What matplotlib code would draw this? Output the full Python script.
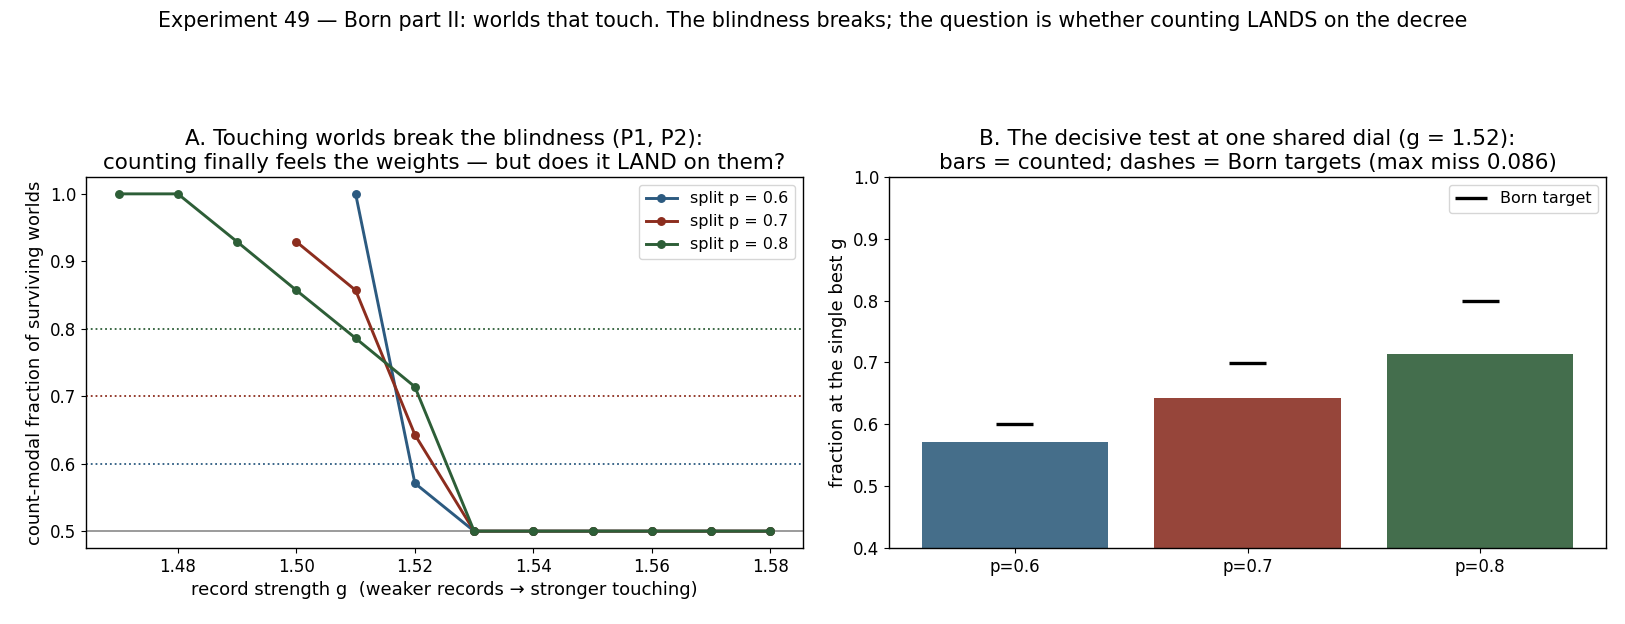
import numpy as np
import matplotlib.pyplot as plt

# panel A: count-modal fraction vs record strength g
g_06 = [1.51, 1.52, 1.53, 1.54, 1.55, 1.56, 1.57, 1.58]
f_06 = [1.0, 0.571, 0.5, 0.5, 0.5, 0.5, 0.5, 0.5]
g_07 = [1.50, 1.51, 1.52, 1.53, 1.54, 1.55, 1.56, 1.57, 1.58]
f_07 = [0.929, 0.857, 0.643, 0.5, 0.5, 0.5, 0.5, 0.5, 0.5]
g_08 = [1.47, 1.48, 1.49, 1.50, 1.51, 1.52, 1.53, 1.54, 1.55, 1.56, 1.57, 1.58]
f_08 = [1.0, 1.0, 0.929, 0.857, 0.786, 0.714, 0.5, 0.5, 0.5, 0.5, 0.5, 0.5]

# panel B: counted vs Born at g = 1.52
bar_labels = ["p=0.6", "p=0.7", "p=0.8"]
counted = [0.571, 0.643, 0.714]
born = [0.6, 0.7, 0.8]

colors = ["#2c5a80", "#8c2d1e", "#2d5e37"]
bar_colors = ["#456e8a", "#96453a", "#446e4d"]

W, H = 1625, 624
fig = plt.figure(figsize=(W / 100, H / 100), dpi=100)
ax1 = fig.add_axes([86 / W, 1 - 548 / H, (803 - 86) / W, (548 - 177) / H])
ax2 = fig.add_axes([889 / W, 1 - 548 / H, (1606 - 889) / W, (548 - 177) / H])

fig.text(0.5, 1 - 21 / H, "Experiment 49 \u2014 Born part II: worlds that touch. The blindness breaks; "
         "the question is whether counting LANDS on the decree", fontsize=14.9, ha="center", va="center")

ax1.axhline(0.5, color="grey", lw=1.1)
for p, c in zip(born, colors):
    ax1.axhline(p, color=c, ls=":", lw=1.3)
for gs, fs, p, c in zip([g_06, g_07, g_08], [f_06, f_07, f_08], born, colors):
    ax1.plot(gs, fs, marker="o", ms=5.4, lw=2.1, color=c, label=f"split p = {p}")
ax1.set_xlabel("record strength g  (weaker records \u2192 stronger touching)", fontsize=13)
ax1.set_ylabel("count-modal fraction of surviving worlds", fontsize=13)
ax1.set_title("A. Touching worlds break the blindness (P1, P2):\n"
              "counting finally feels the weights \u2014 but does it LAND on them?", fontsize=15.5)
ax1.set_xticks([1.48, 1.50, 1.52, 1.54, 1.56, 1.58])
ax1.tick_params(labelsize=12)
ax1.legend(loc="upper right", fontsize=11.5)

x = np.arange(len(bar_labels))
ax2.bar(x, counted, width=0.8, color=bar_colors)
ax2.hlines(born, x - 0.08, x + 0.08, color="black", lw=2.4, label="Born target")
ax2.set_xticks(x)
ax2.set_xticklabels(bar_labels)
ax2.set_ylim(0.4, 1.0)
ax2.set_ylabel("fraction at the single best g", fontsize=13)
ax2.set_title("B. The decisive test at one shared dial (g = 1.52):\n"
              "bars = counted; dashes = Born targets (max miss 0.086)", fontsize=15.5)
ax2.tick_params(labelsize=12)
ax2.legend(loc="upper right", fontsize=11.5)

for ax in (ax1, ax2):
    for s in ax.spines.values():
        s.set_linewidth(1.0)

fig.savefig("out.png", dpi=100)
